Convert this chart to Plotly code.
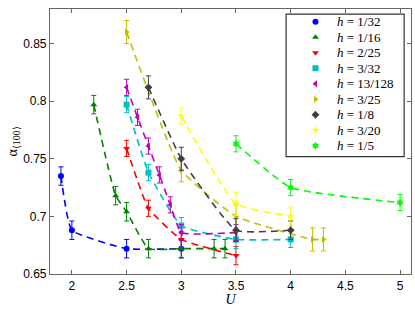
import plotly.graph_objects as go

# ---------------- data ----------------
labels = ["1/32", "1/16", "2/25", "3/32", "13/128", "3/25", "1/8", "3/20", "1/5"]
colors = ["#0000FF", "#007F00", "#FF0000", "#00BFBF", "#BF00BF", "#BFBF00", "#404040", "#FFFF00", "#00FF00"]
symbols = ["circle", "triangle-up", "triangle-down", "square", "triangle-left",
           "triangle-right", "diamond", "star", "hexagram"]

U_h1 = [1.9, 2.0, 2.5, 3.0]
a_h1 = [0.735, 0.688, 0.672, 0.672]
U_h2 = [2.2, 2.4, 2.5, 2.7, 3.0, 3.3, 3.4]
a_h2 = [0.797, 0.718, 0.704, 0.672, 0.672, 0.672, 0.672]
U_h3 = [2.5, 2.7, 3.0, 3.5]
a_h3 = [0.759, 0.707, 0.680, 0.666]
U_h4 = [2.5, 2.7, 3.0, 3.5, 4.0]
a_h4 = [0.797, 0.738, 0.692, 0.680, 0.680]
U_h5 = [2.5, 2.6, 2.7, 2.8, 2.9, 3.0, 3.5]
a_h5 = [0.812, 0.786, 0.761, 0.736, 0.710, 0.686, 0.686]
U_h6 = [2.5, 3.0, 3.5, 4.2, 4.3]
a_h6 = [0.860, 0.740, 0.700, 0.680, 0.680]
U_h7 = [2.7, 3.0, 3.5, 4.0]
a_h7 = [0.812, 0.750, 0.688, 0.688]
U_h8 = [3.0, 3.5, 4.0]
a_h8 = [0.787, 0.711, 0.700]
U_h9 = [3.5, 4.0, 5.0]
a_h9 = [0.763, 0.725, 0.712]

err_h1 = [0.008, 0.008, 0.008, 0.008]
err_h2 = [0.008, 0.008, 0.008, 0.008, 0.008, 0.008, 0.008]
err_h3 = [0.007, 0.007, 0.007, 0.008]
err_h4 = [0.007, 0.007, 0.007, 0.008, 0.007]
err_h5 = [0.007, 0.007, 0.007, 0.007, 0.007, 0.007, 0.007]
err_h6 = [0.010, 0.010, 0.010, 0.010, 0.010]
err_h7 = [0.010, 0.010, 0.010, 0.008]
err_h8 = [0.007, 0.010, 0.008]
err_h9 = [0.007, 0.007, 0.007]

series_U = [U_h1, U_h2, U_h3, U_h4, U_h5, U_h6, U_h7, U_h8, U_h9]
series_a = [a_h1, a_h2, a_h3, a_h4, a_h5, a_h6, a_h7, a_h8, a_h9]
series_e = [err_h1, err_h2, err_h3, err_h4, err_h5, err_h6, err_h7, err_h8, err_h9]

x_ticks = [2, 2.5, 3, 3.5, 4, 4.5, 5]
y_ticks = [0.65, 0.7, 0.75, 0.8, 0.85]

# ---------------- figure ----------------
fig = go.Figure()

for U, a, e, c, s in zip(series_U, series_a, series_e, colors, symbols):
    fig.add_trace(go.Scatter(
        x=U, y=a, mode="lines",
        line=dict(color=c, width=1.6, dash="7px,5px", shape="spline", smoothing=0.4),
        showlegend=False, hoverinfo="skip"))
    fig.add_trace(go.Scatter(
        x=U, y=a, mode="markers",
        marker=dict(color=c, symbol=s, size=6, line=dict(width=0)),
        error_y=dict(type="data", array=e, visible=True, color=c, thickness=1, width=2.5),
        showlegend=False))

# manual legend (compact row spacing)
n = len(labels)
row_y = [0.952 - i * 0.0585 for i in range(n)]
fig.add_trace(go.Scatter(
    x=[0.7354] * n, y=row_y, mode="markers",
    marker=dict(color=colors, symbol=symbols, size=6, line=dict(width=0)),
    xaxis="x2", yaxis="y2", showlegend=False, hoverinfo="skip"))
for lab, yy in zip(labels, row_y):
    fig.add_annotation(
        x=0.789, y=yy, xref="paper", yref="paper", xanchor="left", yanchor="middle",
        text="<i>h</i> = " + lab, showarrow=False,
        font=dict(family="Liberation Serif", size=13, color="black"))
fig.add_shape(type="rect", xref="paper", yref="paper",
              x0=0.654, x1=0.981, y0=0.443, y1=0.981,
              line=dict(color="#333333", width=1.2), fillcolor="rgba(0,0,0,0)")

axis_common = dict(
    showgrid=False, zeroline=False, ticks="inside", ticklen=4, tickcolor="#666666",
    showline=True, linecolor="#666666", linewidth=1.2, mirror="ticks", automargin=False,
    tickfont=dict(family="Liberation Sans, Arial, sans-serif", size=12, color="black"))

fig.update_layout(
    width=415, height=312,
    margin=dict(l=50, r=4, t=9, b=38),
    paper_bgcolor="white", plot_bgcolor="white",
    xaxis=dict(range=[1.8, 5.1], tickvals=x_ticks,
               ticktext=[f"{v:g}" for v in x_ticks],
               title=dict(text="<i>U</i>", standoff=0,
                          font=dict(family="Liberation Serif", size=14, color="black")),
               **axis_common),
    yaxis=dict(range=[0.65, 0.88], tickvals=y_ticks,
               ticktext=[f"{v:g}" for v in y_ticks],
               title=dict(text="α<sub>⟨100⟩</sub>", standoff=2,
                          font=dict(family="Liberation Serif", size=14, color="black")),
               **axis_common),
    xaxis2=dict(range=[0, 1], overlaying="x", visible=False, fixedrange=True),
    yaxis2=dict(range=[0, 1], overlaying="y", visible=False, fixedrange=True),
    showlegend=False,
)

fig.write_html("out.html", config={"displayModeBar": False},
               post_script="document.body.style.margin='0';document.body.style.overflow='hidden';")
